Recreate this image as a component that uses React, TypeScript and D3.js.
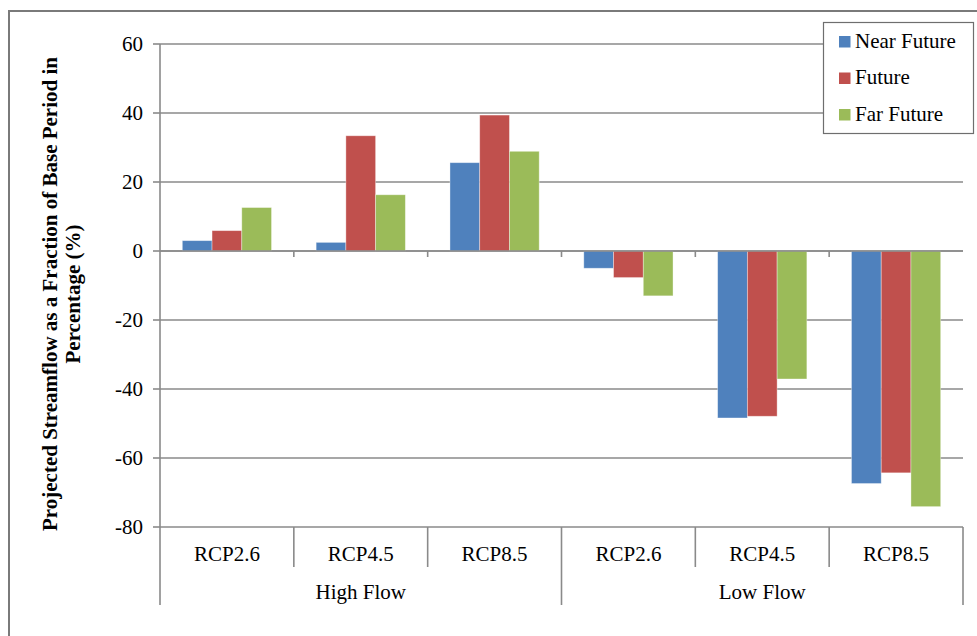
import React from "react";
import * as d3 from "d3";

// values
const categories = ["RCP2.6", "RCP4.5", "RCP8.5", "RCP2.6", "RCP4.5", "RCP8.5"];
const groups = ["High Flow", "Low Flow"];
const seriesNames = ["Near Future", "Future", "Far Future"];
const nearFuture = [3.0, 2.5, 25.6, -5.0, -48.4, -67.4];
const future = [5.9, 33.4, 39.4, -7.7, -47.9, -64.3];
const farFuture = [12.6, 16.3, 28.9, -13.0, -37.1, -74.1];
const yTicks = [60, 40, 20, 0, -20, -40, -60, -80];

const colours = ["#4F81BD", "#C0504D", "#9BBB59"];
const gridColour = "#8a8a8a";
const font = "'Liberation Serif', 'Times New Roman', serif";

const dims = { width: 977, height: 636, left: 160, right: 963, top: 44, bottom: 527 };

export default function App() {
  const values = [nearFuture, future, farFuture];

  const xScale = d3
    .scaleBand<number>()
    .domain(d3.range(categories.length))
    .range([dims.left, dims.right]);

  const inner = d3
    .scaleBand<number>()
    .domain(d3.range(seriesNames.length))
    .range([0, xScale.bandwidth()])
    .paddingOuter(0.75);

  const yScale = d3.scaleLinear().domain([-80, 60]).range([dims.bottom, dims.top]);
  const y0 = yScale(0);

  const groupScale = d3
    .scaleBand<number>()
    .domain(d3.range(groups.length))
    .range([dims.left, dims.right]);

  const bounds = d3.range(categories.length + 1).map((i) =>
    i < categories.length ? (xScale(i) as number) : dims.right
  );

  return (
    <svg
      width={dims.width}
      height={dims.height}
      style={{ position: "absolute", left: 0, top: 0, background: "#fff" }}
    >
      {/* outer chart border */}
      <rect x={9} y={11} width={1100} height={800} fill="none" stroke="#7a7a7a" strokeWidth={2} />

      {/* gridlines */}
      {yTicks.map((t) => (
        <line
          key={"g" + t}
          x1={dims.left}
          x2={dims.right}
          y1={yScale(t)}
          y2={yScale(t)}
          stroke={gridColour}
          strokeWidth={1.6}
        />
      ))}

      {/* y axis */}
      <line x1={dims.left} x2={dims.left} y1={dims.top} y2={dims.bottom} stroke={gridColour} strokeWidth={1.6} />
      {yTicks.map((t) => (
        <g key={"t" + t}>
          <line x1={dims.left - 7} x2={dims.left} y1={yScale(t)} y2={yScale(t)} stroke={gridColour} strokeWidth={1.6} />
          <text
            x={143}
            y={yScale(t) + 7}
            textAnchor="end"
            fontFamily={font}
            fontSize={21}
            fill="#000"
          >
            {t}
          </text>
        </g>
      ))}

      {/* bars */}
      {values.map((vals, s) =>
        vals.map((v, i) => {
          const x = (xScale(i) as number) + (inner(s) as number);
          const y = yScale(Math.max(0, v));
          const h = Math.abs(yScale(v) - y0);
          return (
            <rect
              key={s + "-" + i}
              x={x}
              y={y}
              width={inner.bandwidth()}
              height={h}
              fill={colours[s]}
              stroke="#ffffff"
              strokeOpacity={0.45}
              strokeWidth={0.8}
            />
          );
        })
      )}

      {/* small ticks on the zero line */}
      {bounds.slice(1, -1).map((b, i) => (
        <line key={"zt" + i} x1={b} x2={b} y1={y0} y2={y0 + 6} stroke={gridColour} strokeWidth={1.6} />
      ))}
      <line x1={dims.left} x2={dims.right} y1={y0} y2={y0} stroke={gridColour} strokeWidth={1.6} />

      {/* category axis dividers */}
      {bounds.map((b, i) => {
        const isGroupEdge = i === 0 || i === 3 || i === bounds.length - 1;
        return (
          <line
            key={"d" + i}
            x1={b}
            x2={b}
            y1={dims.bottom}
            y2={isGroupEdge ? 605 : 567}
            stroke={gridColour}
            strokeWidth={1.6}
          />
        );
      })}

      {categories.map((c, i) => (
        <text
          key={"c" + i}
          x={(xScale(i) as number) + xScale.bandwidth() / 2}
          y={561}
          textAnchor="middle"
          fontFamily={font}
          fontSize={21}
          fill="#000"
        >
          {c}
        </text>
      ))}

      {groups.map((g, i) => (
        <text
          key={"gr" + i}
          x={(groupScale(i) as number) + groupScale.bandwidth() / 2}
          y={599}
          textAnchor="middle"
          fontFamily={font}
          fontSize={21}
          fill="#000"
        >
          {g}
        </text>
      ))}

      {/* y axis title */}
      <text
        transform="translate(57,294) rotate(-90)"
        textAnchor="middle"
        fontFamily={font}
        fontSize={21}
        fontWeight="bold"
        fill="#000"
      >
        Projected Streamflow as a Fraction of Base Period in
      </text>
      <text
        transform="translate(80,294) rotate(-90)"
        textAnchor="middle"
        fontFamily={font}
        fontSize={21}
        fontWeight="bold"
        fill="#000"
      >
        Percentage (%)
      </text>

      {/* legend */}
      <rect x={823.5} y={22.5} width={150} height={111} fill="#fff" stroke="#6e6e6e" strokeWidth={1.2} />
      {seriesNames.map((n, i) => (
        <g key={"l" + i}>
          <rect x={839} y={36 + i * 36.5} width={11.5} height={11.5} fill={colours[i]} />
          <text x={855} y={47.5 + i * 36.5} fontFamily={font} fontSize={21} fill="#000">
            {n}
          </text>
        </g>
      ))}
    </svg>
  );
}
